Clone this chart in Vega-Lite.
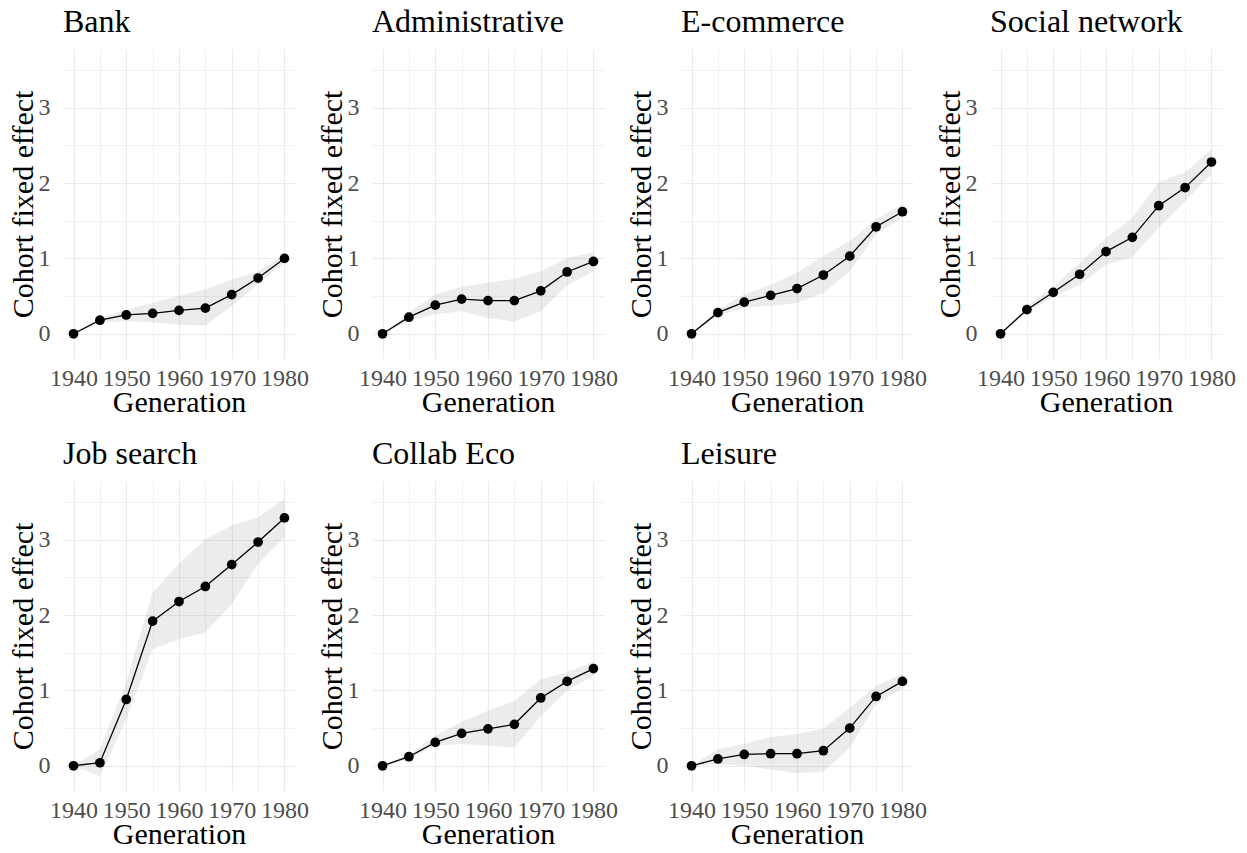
{
  "$schema": "https://vega.github.io/schema/vega-lite/v6.json",
  "background": "white",
  "padding": {"left": 8, "top": 6, "right": 5, "bottom": 5},
  "bounds": "flush",
  "columns": 4,
  "spacing": {"row": 122, "column": 77},
  "datasets": {
    "d": [
      {"panel": "Bank", "year": 1940, "est": 0, "lo": 0, "hi": 0},
      {"panel": "Bank", "year": 1945, "est": 0.18, "lo": 0.15, "hi": 0.21},
      {"panel": "Bank", "year": 1950, "est": 0.25, "lo": 0.17, "hi": 0.32},
      {"panel": "Bank", "year": 1955, "est": 0.27, "lo": 0.15, "hi": 0.41},
      {"panel": "Bank", "year": 1960, "est": 0.31, "lo": 0.12, "hi": 0.50},
      {"panel": "Bank", "year": 1965, "est": 0.34, "lo": 0.11, "hi": 0.59},
      {"panel": "Bank", "year": 1970, "est": 0.52, "lo": 0.37, "hi": 0.72},
      {"panel": "Bank", "year": 1975, "est": 0.74, "lo": 0.66, "hi": 0.83},
      {"panel": "Bank", "year": 1980, "est": 1.00, "lo": 0.94, "hi": 1.05},
      {"panel": "Administrative", "year": 1940, "est": 0, "lo": 0, "hi": 0},
      {"panel": "Administrative", "year": 1945, "est": 0.22, "lo": 0.17, "hi": 0.28},
      {"panel": "Administrative", "year": 1950, "est": 0.38, "lo": 0.26, "hi": 0.52},
      {"panel": "Administrative", "year": 1955, "est": 0.46, "lo": 0.30, "hi": 0.62},
      {"panel": "Administrative", "year": 1960, "est": 0.44, "lo": 0.21, "hi": 0.68},
      {"panel": "Administrative", "year": 1965, "est": 0.44, "lo": 0.16, "hi": 0.73},
      {"panel": "Administrative", "year": 1970, "est": 0.57, "lo": 0.30, "hi": 0.83},
      {"panel": "Administrative", "year": 1975, "est": 0.82, "lo": 0.64, "hi": 1.01},
      {"panel": "Administrative", "year": 1980, "est": 0.96, "lo": 0.83, "hi": 1.08},
      {"panel": "E-commerce", "year": 1940, "est": 0, "lo": 0, "hi": 0},
      {"panel": "E-commerce", "year": 1945, "est": 0.28, "lo": 0.24, "hi": 0.32},
      {"panel": "E-commerce", "year": 1950, "est": 0.42, "lo": 0.35, "hi": 0.52},
      {"panel": "E-commerce", "year": 1955, "est": 0.51, "lo": 0.37, "hi": 0.65},
      {"panel": "E-commerce", "year": 1960, "est": 0.60, "lo": 0.41, "hi": 0.81},
      {"panel": "E-commerce", "year": 1965, "est": 0.78, "lo": 0.54, "hi": 1.03},
      {"panel": "E-commerce", "year": 1970, "est": 1.03, "lo": 0.83, "hi": 1.23},
      {"panel": "E-commerce", "year": 1975, "est": 1.42, "lo": 1.32, "hi": 1.52},
      {"panel": "E-commerce", "year": 1980, "est": 1.62, "lo": 1.54, "hi": 1.72},
      {"panel": "Social network", "year": 1940, "est": 0, "lo": 0, "hi": 0},
      {"panel": "Social network", "year": 1945, "est": 0.32, "lo": 0.28, "hi": 0.37},
      {"panel": "Social network", "year": 1950, "est": 0.55, "lo": 0.49, "hi": 0.62},
      {"panel": "Social network", "year": 1955, "est": 0.79, "lo": 0.65, "hi": 0.94},
      {"panel": "Social network", "year": 1960, "est": 1.09, "lo": 0.92, "hi": 1.27},
      {"panel": "Social network", "year": 1965, "est": 1.28, "lo": 1.02, "hi": 1.54},
      {"panel": "Social network", "year": 1970, "est": 1.70, "lo": 1.41, "hi": 2.01},
      {"panel": "Social network", "year": 1975, "est": 1.94, "lo": 1.76, "hi": 2.14},
      {"panel": "Social network", "year": 1980, "est": 2.28, "lo": 2.12, "hi": 2.45},
      {"panel": "Job search", "year": 1940, "est": 0, "lo": 0, "hi": 0},
      {"panel": "Job search", "year": 1945, "est": 0.04, "lo": -0.14, "hi": 0.22},
      {"panel": "Job search", "year": 1950, "est": 0.88, "lo": 0.62, "hi": 1.11},
      {"panel": "Job search", "year": 1955, "est": 1.92, "lo": 1.55, "hi": 2.30},
      {"panel": "Job search", "year": 1960, "est": 2.18, "lo": 1.68, "hi": 2.68},
      {"panel": "Job search", "year": 1965, "est": 2.38, "lo": 1.77, "hi": 3.01},
      {"panel": "Job search", "year": 1970, "est": 2.67, "lo": 2.15, "hi": 3.19},
      {"panel": "Job search", "year": 1975, "est": 2.97, "lo": 2.68, "hi": 3.30},
      {"panel": "Job search", "year": 1980, "est": 3.29, "lo": 3.03, "hi": 3.54},
      {"panel": "Collab Eco", "year": 1940, "est": 0, "lo": 0, "hi": 0},
      {"panel": "Collab Eco", "year": 1945, "est": 0.12, "lo": 0.09, "hi": 0.15},
      {"panel": "Collab Eco", "year": 1950, "est": 0.31, "lo": 0.27, "hi": 0.40},
      {"panel": "Collab Eco", "year": 1955, "est": 0.43, "lo": 0.29, "hi": 0.58},
      {"panel": "Collab Eco", "year": 1960, "est": 0.49, "lo": 0.27, "hi": 0.73},
      {"panel": "Collab Eco", "year": 1965, "est": 0.55, "lo": 0.24, "hi": 0.86},
      {"panel": "Collab Eco", "year": 1970, "est": 0.90, "lo": 0.66, "hi": 1.15},
      {"panel": "Collab Eco", "year": 1975, "est": 1.12, "lo": 1.00, "hi": 1.24},
      {"panel": "Collab Eco", "year": 1980, "est": 1.29, "lo": 1.19, "hi": 1.38},
      {"panel": "Leisure", "year": 1940, "est": 0, "lo": 0, "hi": 0},
      {"panel": "Leisure", "year": 1945, "est": 0.09, "lo": 0.02, "hi": 0.22},
      {"panel": "Leisure", "year": 1950, "est": 0.15, "lo": 0.00, "hi": 0.29},
      {"panel": "Leisure", "year": 1955, "est": 0.16, "lo": -0.05, "hi": 0.38},
      {"panel": "Leisure", "year": 1960, "est": 0.16, "lo": -0.10, "hi": 0.42},
      {"panel": "Leisure", "year": 1965, "est": 0.20, "lo": -0.08, "hi": 0.49},
      {"panel": "Leisure", "year": 1970, "est": 0.50, "lo": 0.24, "hi": 0.77},
      {"panel": "Leisure", "year": 1975, "est": 0.92, "lo": 0.82, "hi": 1.06},
      {"panel": "Leisure", "year": 1980, "est": 1.12, "lo": 1.03, "hi": 1.22}
    ]
  },
  "data": {"name": "d"},
  "config": {
    "view": {"stroke": null},
    "font": "Liberation Serif",
    "axis": {
      "domain": false, "ticks": false, "gridColor": "#EBEBEB",
      "labelFont": "Liberation Serif", "labelFontSize": 24, "labelColor": "#4D4D4D",
      "titleFont": "Liberation Serif", "titleFontSize": 30, "titleFontWeight": "normal", "titleColor": "#000000",
      "labelOverlap": false, "labelFlush": false
    },
    "axisX": {"labelPadding": 7, "titlePadding": -3, "labelAngle": 0},
    "axisY": {"labelPadding": 13, "titlePadding": 0},
    "title": {"font": "Liberation Serif", "fontSize": 32, "fontWeight": "normal", "anchor": "start", "frame": "group", "baseline": "alphabetic", "offset": 10, "color": "#000000"}
  },
  "concat": [
    {"title": "Bank", "width": 232, "height": 310,
     "transform": [{"filter": "datum.panel === 'Bank'"}],
     "encoding": {"x": {"field": "year", "type": "quantitative", "scale": {"domain": [1938, 1982], "nice": false, "zero": false},
       "axis": {"title": "Generation", "values": [1940,1945,1950,1955,1960,1965,1970,1975,1980], "format": "d", "labelExpr": "datum.value % 10 === 0 ? datum.label : ''", "gridWidth": {"condition": {"test": "datum.value % 10 === 0", "value": 1.2}, "value": 0.7}}}},
     "layer": [
       {"mark": {"type": "area", "color": "#808080", "opacity": 0.15}, "encoding": {"y": {"field": "lo", "type": "quantitative", "scale": {"domain": [-0.335, 3.78], "nice": false, "zero": false}, "axis": {"title": "Cohort fixed effect", "values": [0,0.5,1,1.5,2,2.5,3,3.5], "format": "~g", "labelExpr": "datum.value % 1 === 0 ? datum.label : ''", "gridWidth": {"condition": {"test": "datum.value % 1 === 0", "value": 1.2}, "value": 0.7}}}, "y2": {"field": "hi"}}},
       {"mark": {"type": "line", "color": "#000000", "strokeWidth": 1.3}, "encoding": {"y": {"field": "est", "type": "quantitative", "scale": {"domain": [-0.335, 3.78], "nice": false, "zero": false}, "axis": {"title": "Cohort fixed effect", "values": [0,0.5,1,1.5,2,2.5,3,3.5], "format": "~g", "labelExpr": "datum.value % 1 === 0 ? datum.label : ''", "gridWidth": {"condition": {"test": "datum.value % 1 === 0", "value": 1.2}, "value": 0.7}}}}},
       {"mark": {"type": "point", "filled": true, "color": "#000000", "size": 95, "opacity": 1}, "encoding": {"y": {"field": "est", "type": "quantitative", "scale": {"domain": [-0.335, 3.78], "nice": false, "zero": false}, "axis": {"title": "Cohort fixed effect", "values": [0,0.5,1,1.5,2,2.5,3,3.5], "format": "~g", "labelExpr": "datum.value % 1 === 0 ? datum.label : ''", "gridWidth": {"condition": {"test": "datum.value % 1 === 0", "value": 1.2}, "value": 0.7}}}}}
     ]},
    {"title": "Administrative", "width": 232, "height": 310,
     "transform": [{"filter": "datum.panel === 'Administrative'"}],
     "encoding": {"x": {"field": "year", "type": "quantitative", "scale": {"domain": [1938, 1982], "nice": false, "zero": false},
       "axis": {"title": "Generation", "values": [1940,1945,1950,1955,1960,1965,1970,1975,1980], "format": "d", "labelExpr": "datum.value % 10 === 0 ? datum.label : ''", "gridWidth": {"condition": {"test": "datum.value % 10 === 0", "value": 1.2}, "value": 0.7}}}},
     "layer": [
       {"mark": {"type": "area", "color": "#808080", "opacity": 0.15}, "encoding": {"y": {"field": "lo", "type": "quantitative", "scale": {"domain": [-0.335, 3.78], "nice": false, "zero": false}, "axis": {"title": "Cohort fixed effect", "values": [0,0.5,1,1.5,2,2.5,3,3.5], "format": "~g", "labelExpr": "datum.value % 1 === 0 ? datum.label : ''", "gridWidth": {"condition": {"test": "datum.value % 1 === 0", "value": 1.2}, "value": 0.7}}}, "y2": {"field": "hi"}}},
       {"mark": {"type": "line", "color": "#000000", "strokeWidth": 1.3}, "encoding": {"y": {"field": "est", "type": "quantitative", "scale": {"domain": [-0.335, 3.78], "nice": false, "zero": false}, "axis": {"title": "Cohort fixed effect", "values": [0,0.5,1,1.5,2,2.5,3,3.5], "format": "~g", "labelExpr": "datum.value % 1 === 0 ? datum.label : ''", "gridWidth": {"condition": {"test": "datum.value % 1 === 0", "value": 1.2}, "value": 0.7}}}}},
       {"mark": {"type": "point", "filled": true, "color": "#000000", "size": 95, "opacity": 1}, "encoding": {"y": {"field": "est", "type": "quantitative", "scale": {"domain": [-0.335, 3.78], "nice": false, "zero": false}, "axis": {"title": "Cohort fixed effect", "values": [0,0.5,1,1.5,2,2.5,3,3.5], "format": "~g", "labelExpr": "datum.value % 1 === 0 ? datum.label : ''", "gridWidth": {"condition": {"test": "datum.value % 1 === 0", "value": 1.2}, "value": 0.7}}}}}
     ]},
    {"title": "E-commerce", "width": 232, "height": 310,
     "transform": [{"filter": "datum.panel === 'E-commerce'"}],
     "encoding": {"x": {"field": "year", "type": "quantitative", "scale": {"domain": [1938, 1982], "nice": false, "zero": false},
       "axis": {"title": "Generation", "values": [1940,1945,1950,1955,1960,1965,1970,1975,1980], "format": "d", "labelExpr": "datum.value % 10 === 0 ? datum.label : ''", "gridWidth": {"condition": {"test": "datum.value % 10 === 0", "value": 1.2}, "value": 0.7}}}},
     "layer": [
       {"mark": {"type": "area", "color": "#808080", "opacity": 0.15}, "encoding": {"y": {"field": "lo", "type": "quantitative", "scale": {"domain": [-0.335, 3.78], "nice": false, "zero": false}, "axis": {"title": "Cohort fixed effect", "values": [0,0.5,1,1.5,2,2.5,3,3.5], "format": "~g", "labelExpr": "datum.value % 1 === 0 ? datum.label : ''", "gridWidth": {"condition": {"test": "datum.value % 1 === 0", "value": 1.2}, "value": 0.7}}}, "y2": {"field": "hi"}}},
       {"mark": {"type": "line", "color": "#000000", "strokeWidth": 1.3}, "encoding": {"y": {"field": "est", "type": "quantitative", "scale": {"domain": [-0.335, 3.78], "nice": false, "zero": false}, "axis": {"title": "Cohort fixed effect", "values": [0,0.5,1,1.5,2,2.5,3,3.5], "format": "~g", "labelExpr": "datum.value % 1 === 0 ? datum.label : ''", "gridWidth": {"condition": {"test": "datum.value % 1 === 0", "value": 1.2}, "value": 0.7}}}}},
       {"mark": {"type": "point", "filled": true, "color": "#000000", "size": 95, "opacity": 1}, "encoding": {"y": {"field": "est", "type": "quantitative", "scale": {"domain": [-0.335, 3.78], "nice": false, "zero": false}, "axis": {"title": "Cohort fixed effect", "values": [0,0.5,1,1.5,2,2.5,3,3.5], "format": "~g", "labelExpr": "datum.value % 1 === 0 ? datum.label : ''", "gridWidth": {"condition": {"test": "datum.value % 1 === 0", "value": 1.2}, "value": 0.7}}}}}
     ]},
    {"title": "Social network", "width": 232, "height": 310,
     "transform": [{"filter": "datum.panel === 'Social network'"}],
     "encoding": {"x": {"field": "year", "type": "quantitative", "scale": {"domain": [1938, 1982], "nice": false, "zero": false},
       "axis": {"title": "Generation", "values": [1940,1945,1950,1955,1960,1965,1970,1975,1980], "format": "d", "labelExpr": "datum.value % 10 === 0 ? datum.label : ''", "gridWidth": {"condition": {"test": "datum.value % 10 === 0", "value": 1.2}, "value": 0.7}}}},
     "layer": [
       {"mark": {"type": "area", "color": "#808080", "opacity": 0.15}, "encoding": {"y": {"field": "lo", "type": "quantitative", "scale": {"domain": [-0.335, 3.78], "nice": false, "zero": false}, "axis": {"title": "Cohort fixed effect", "values": [0,0.5,1,1.5,2,2.5,3,3.5], "format": "~g", "labelExpr": "datum.value % 1 === 0 ? datum.label : ''", "gridWidth": {"condition": {"test": "datum.value % 1 === 0", "value": 1.2}, "value": 0.7}}}, "y2": {"field": "hi"}}},
       {"mark": {"type": "line", "color": "#000000", "strokeWidth": 1.3}, "encoding": {"y": {"field": "est", "type": "quantitative", "scale": {"domain": [-0.335, 3.78], "nice": false, "zero": false}, "axis": {"title": "Cohort fixed effect", "values": [0,0.5,1,1.5,2,2.5,3,3.5], "format": "~g", "labelExpr": "datum.value % 1 === 0 ? datum.label : ''", "gridWidth": {"condition": {"test": "datum.value % 1 === 0", "value": 1.2}, "value": 0.7}}}}},
       {"mark": {"type": "point", "filled": true, "color": "#000000", "size": 95, "opacity": 1}, "encoding": {"y": {"field": "est", "type": "quantitative", "scale": {"domain": [-0.335, 3.78], "nice": false, "zero": false}, "axis": {"title": "Cohort fixed effect", "values": [0,0.5,1,1.5,2,2.5,3,3.5], "format": "~g", "labelExpr": "datum.value % 1 === 0 ? datum.label : ''", "gridWidth": {"condition": {"test": "datum.value % 1 === 0", "value": 1.2}, "value": 0.7}}}}}
     ]},
    {"title": "Job search", "width": 232, "height": 310,
     "transform": [{"filter": "datum.panel === 'Job search'"}],
     "encoding": {"x": {"field": "year", "type": "quantitative", "scale": {"domain": [1938, 1982], "nice": false, "zero": false},
       "axis": {"title": "Generation", "values": [1940,1945,1950,1955,1960,1965,1970,1975,1980], "format": "d", "labelExpr": "datum.value % 10 === 0 ? datum.label : ''", "gridWidth": {"condition": {"test": "datum.value % 10 === 0", "value": 1.2}, "value": 0.7}}}},
     "layer": [
       {"mark": {"type": "area", "color": "#808080", "opacity": 0.15}, "encoding": {"y": {"field": "lo", "type": "quantitative", "scale": {"domain": [-0.335, 3.78], "nice": false, "zero": false}, "axis": {"title": "Cohort fixed effect", "values": [0,0.5,1,1.5,2,2.5,3,3.5], "format": "~g", "labelExpr": "datum.value % 1 === 0 ? datum.label : ''", "gridWidth": {"condition": {"test": "datum.value % 1 === 0", "value": 1.2}, "value": 0.7}}}, "y2": {"field": "hi"}}},
       {"mark": {"type": "line", "color": "#000000", "strokeWidth": 1.3}, "encoding": {"y": {"field": "est", "type": "quantitative", "scale": {"domain": [-0.335, 3.78], "nice": false, "zero": false}, "axis": {"title": "Cohort fixed effect", "values": [0,0.5,1,1.5,2,2.5,3,3.5], "format": "~g", "labelExpr": "datum.value % 1 === 0 ? datum.label : ''", "gridWidth": {"condition": {"test": "datum.value % 1 === 0", "value": 1.2}, "value": 0.7}}}}},
       {"mark": {"type": "point", "filled": true, "color": "#000000", "size": 95, "opacity": 1}, "encoding": {"y": {"field": "est", "type": "quantitative", "scale": {"domain": [-0.335, 3.78], "nice": false, "zero": false}, "axis": {"title": "Cohort fixed effect", "values": [0,0.5,1,1.5,2,2.5,3,3.5], "format": "~g", "labelExpr": "datum.value % 1 === 0 ? datum.label : ''", "gridWidth": {"condition": {"test": "datum.value % 1 === 0", "value": 1.2}, "value": 0.7}}}}}
     ]},
    {"title": "Collab Eco", "width": 232, "height": 310,
     "transform": [{"filter": "datum.panel === 'Collab Eco'"}],
     "encoding": {"x": {"field": "year", "type": "quantitative", "scale": {"domain": [1938, 1982], "nice": false, "zero": false},
       "axis": {"title": "Generation", "values": [1940,1945,1950,1955,1960,1965,1970,1975,1980], "format": "d", "labelExpr": "datum.value % 10 === 0 ? datum.label : ''", "gridWidth": {"condition": {"test": "datum.value % 10 === 0", "value": 1.2}, "value": 0.7}}}},
     "layer": [
       {"mark": {"type": "area", "color": "#808080", "opacity": 0.15}, "encoding": {"y": {"field": "lo", "type": "quantitative", "scale": {"domain": [-0.335, 3.78], "nice": false, "zero": false}, "axis": {"title": "Cohort fixed effect", "values": [0,0.5,1,1.5,2,2.5,3,3.5], "format": "~g", "labelExpr": "datum.value % 1 === 0 ? datum.label : ''", "gridWidth": {"condition": {"test": "datum.value % 1 === 0", "value": 1.2}, "value": 0.7}}}, "y2": {"field": "hi"}}},
       {"mark": {"type": "line", "color": "#000000", "strokeWidth": 1.3}, "encoding": {"y": {"field": "est", "type": "quantitative", "scale": {"domain": [-0.335, 3.78], "nice": false, "zero": false}, "axis": {"title": "Cohort fixed effect", "values": [0,0.5,1,1.5,2,2.5,3,3.5], "format": "~g", "labelExpr": "datum.value % 1 === 0 ? datum.label : ''", "gridWidth": {"condition": {"test": "datum.value % 1 === 0", "value": 1.2}, "value": 0.7}}}}},
       {"mark": {"type": "point", "filled": true, "color": "#000000", "size": 95, "opacity": 1}, "encoding": {"y": {"field": "est", "type": "quantitative", "scale": {"domain": [-0.335, 3.78], "nice": false, "zero": false}, "axis": {"title": "Cohort fixed effect", "values": [0,0.5,1,1.5,2,2.5,3,3.5], "format": "~g", "labelExpr": "datum.value % 1 === 0 ? datum.label : ''", "gridWidth": {"condition": {"test": "datum.value % 1 === 0", "value": 1.2}, "value": 0.7}}}}}
     ]},
    {"title": "Leisure", "width": 232, "height": 310,
     "transform": [{"filter": "datum.panel === 'Leisure'"}],
     "encoding": {"x": {"field": "year", "type": "quantitative", "scale": {"domain": [1938, 1982], "nice": false, "zero": false},
       "axis": {"title": "Generation", "values": [1940,1945,1950,1955,1960,1965,1970,1975,1980], "format": "d", "labelExpr": "datum.value % 10 === 0 ? datum.label : ''", "gridWidth": {"condition": {"test": "datum.value % 10 === 0", "value": 1.2}, "value": 0.7}}}},
     "layer": [
       {"mark": {"type": "area", "color": "#808080", "opacity": 0.15}, "encoding": {"y": {"field": "lo", "type": "quantitative", "scale": {"domain": [-0.335, 3.78], "nice": false, "zero": false}, "axis": {"title": "Cohort fixed effect", "values": [0,0.5,1,1.5,2,2.5,3,3.5], "format": "~g", "labelExpr": "datum.value % 1 === 0 ? datum.label : ''", "gridWidth": {"condition": {"test": "datum.value % 1 === 0", "value": 1.2}, "value": 0.7}}}, "y2": {"field": "hi"}}},
       {"mark": {"type": "line", "color": "#000000", "strokeWidth": 1.3}, "encoding": {"y": {"field": "est", "type": "quantitative", "scale": {"domain": [-0.335, 3.78], "nice": false, "zero": false}, "axis": {"title": "Cohort fixed effect", "values": [0,0.5,1,1.5,2,2.5,3,3.5], "format": "~g", "labelExpr": "datum.value % 1 === 0 ? datum.label : ''", "gridWidth": {"condition": {"test": "datum.value % 1 === 0", "value": 1.2}, "value": 0.7}}}}},
       {"mark": {"type": "point", "filled": true, "color": "#000000", "size": 95, "opacity": 1}, "encoding": {"y": {"field": "est", "type": "quantitative", "scale": {"domain": [-0.335, 3.78], "nice": false, "zero": false}, "axis": {"title": "Cohort fixed effect", "values": [0,0.5,1,1.5,2,2.5,3,3.5], "format": "~g", "labelExpr": "datum.value % 1 === 0 ? datum.label : ''", "gridWidth": {"condition": {"test": "datum.value % 1 === 0", "value": 1.2}, "value": 0.7}}}}}
     ]}
  ]
}
